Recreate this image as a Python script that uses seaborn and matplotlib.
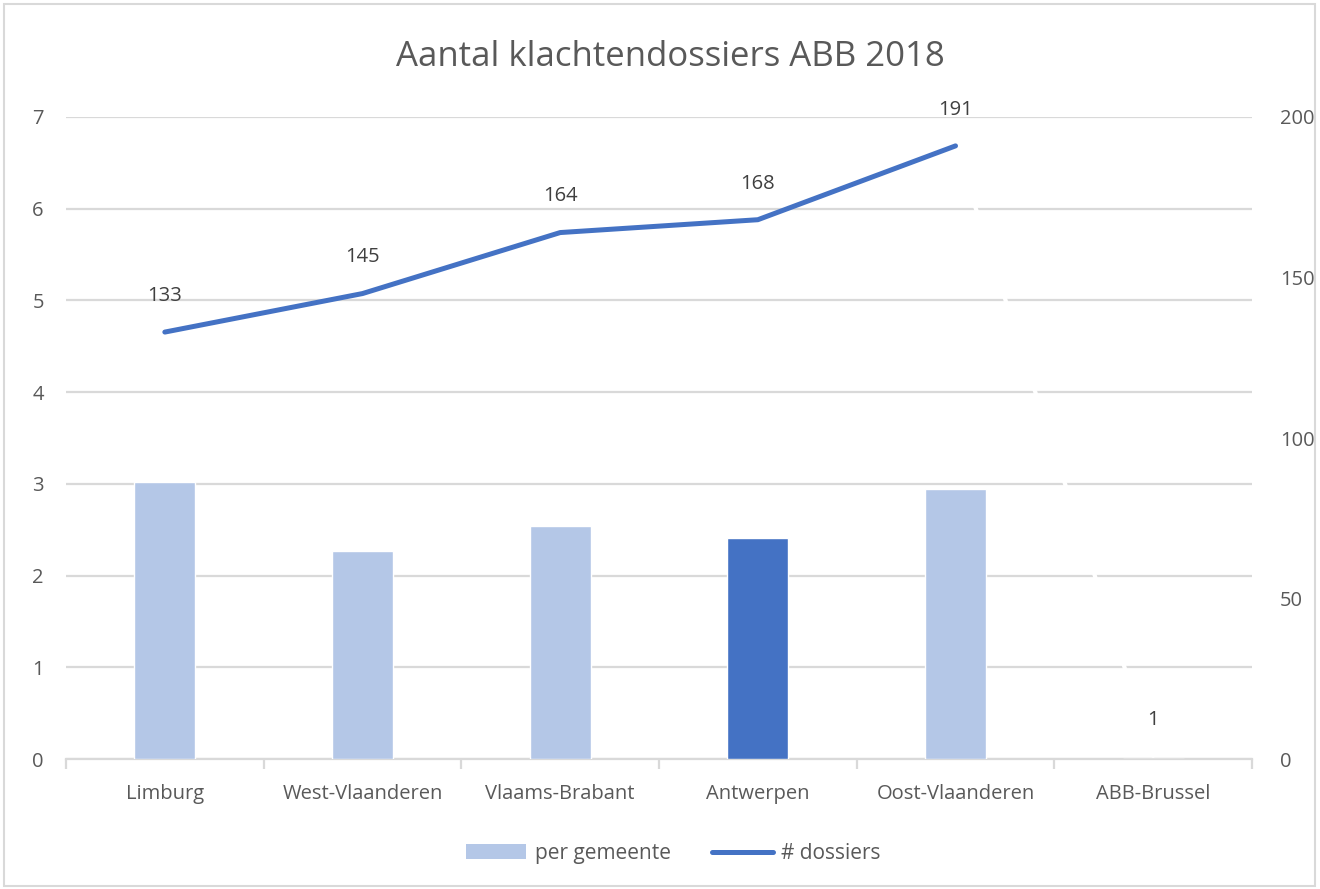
import numpy as np
import pandas as pd
import matplotlib
matplotlib.use("Agg")
import matplotlib.pyplot as plt
import seaborn as sns
from matplotlib.patches import Patch, Rectangle
from matplotlib.lines import Line2D

provinces = ["Limburg", "West-Vlaanderen", "Vlaams-Brabant", "Antwerpen",
             "Oost-Vlaanderen", "ABB-Brussel"]
per_gemeente = [3.02, 2.27, 2.54, 2.41, 2.94, 0.0]
dossiers = [133, 145, 164, 168, 191, 1]
bar_colors = ["#B4C7E7", "#B4C7E7", "#B4C7E7", "#4472C4", "#B4C7E7", "#B4C7E7"]

line_color = "#4472C4"
grid_color = "#D9D9D9"
text_color = "#595959"
fs = 14.5

sns.set_theme(style="white")
plt.rcParams["font.family"] = ["Open Sans", "DejaVu Sans"]

df = pd.DataFrame({"provincie": provinces, "per_gemeente": per_gemeente,
                   "dossiers": dossiers, "pos": np.arange(len(provinces))})

fig = plt.figure(figsize=(13.2, 8.89), dpi=100)
ax = fig.add_axes([0.05, 0.1462, 0.8985, 0.7222])

sns.barplot(data=df, x="provincie", y="per_gemeente", hue="provincie",
            palette=bar_colors, width=0.31, legend=False, ax=ax, zorder=3,
            saturation=1)
ax.set_ylim(0, 7)
ax.set_xlim(-0.5, len(provinces) - 0.5)
ax.set_yticks(range(0, 8))
ax.yaxis.grid(True, color=grid_color, linewidth=1.6, zorder=0)
ax.set_axisbelow(True)
ax.set_xlabel("")
ax.set_ylabel("")
ax.tick_params(axis="y", length=0, labelsize=fs, labelcolor=text_color, pad=16)
ax.tick_params(axis="x", which="major", length=0, labelsize=fs,
               labelcolor=text_color, pad=18)
ax.set_xticks(np.arange(-0.5, len(provinces)), minor=True)
ax.tick_params(axis="x", which="minor", length=7, width=1.6, color=grid_color,
               direction="out", bottom=True)
for s in ["left", "right", "top"]:
    ax.spines[s].set_visible(False)
ax.spines["bottom"].set_color(grid_color)
ax.spines["bottom"].set_linewidth(1.6)

ax2 = ax.twinx()
# segment to ABB-Brussel drawn in white, as in the original
sns.lineplot(data=df.iloc[4:], x="pos", y="dossiers", color="white",
             linewidth=3.0, ax=ax2, zorder=2)
sns.lineplot(data=df.iloc[:5], x="pos", y="dossiers", color=line_color,
             linewidth=3.6, ax=ax2, zorder=4)
ax2.set_ylim(0, 200)
ax2.set_yticks([0, 50, 100, 150, 200])
ax2.set_xlim(-0.5, len(provinces) - 0.5)
ax2.set_xlabel("")
ax2.set_ylabel("")
ax2.tick_params(axis="y", length=0, labelsize=fs, labelcolor=text_color, pad=20)
for s in ["left", "right", "top", "bottom"]:
    ax2.spines[s].set_visible(False)
ax2.grid(False)
ax.set_zorder(ax2.get_zorder() - 1)
ax.patch.set_visible(False)

for p, v in zip(df["pos"], df["dossiers"]):
    ax2.annotate(str(v), (p, v), xytext=(0, 26), textcoords="offset points",
                 ha="center", va="center", fontsize=fs, color="#404040")

fig.text(0.508, 0.936, "Aantal klachtendossiers ABB 2018", ha="center",
         va="center", fontsize=25, color=text_color)

handles = [Patch(facecolor="#B4C7E7", edgecolor="none", label="per gemeente"),
           Line2D([0], [0], color=line_color, linewidth=3.6,
                  solid_capstyle="round", label="# dossiers")]
fig.legend(handles=handles, loc="center", bbox_to_anchor=(0.51, 0.04),
           ncol=2, frameon=False, fontsize=15, labelcolor=text_color,
           handlelength=2.9, columnspacing=2.0, handletextpad=0.4)

fig.patches.append(Rectangle((0.003, 0.003), 0.993, 0.993, transform=fig.transFigure,
                             fill=False, edgecolor="#D9D9D9", linewidth=1.5))

fig.savefig("out.png", dpi=100, facecolor="white")
